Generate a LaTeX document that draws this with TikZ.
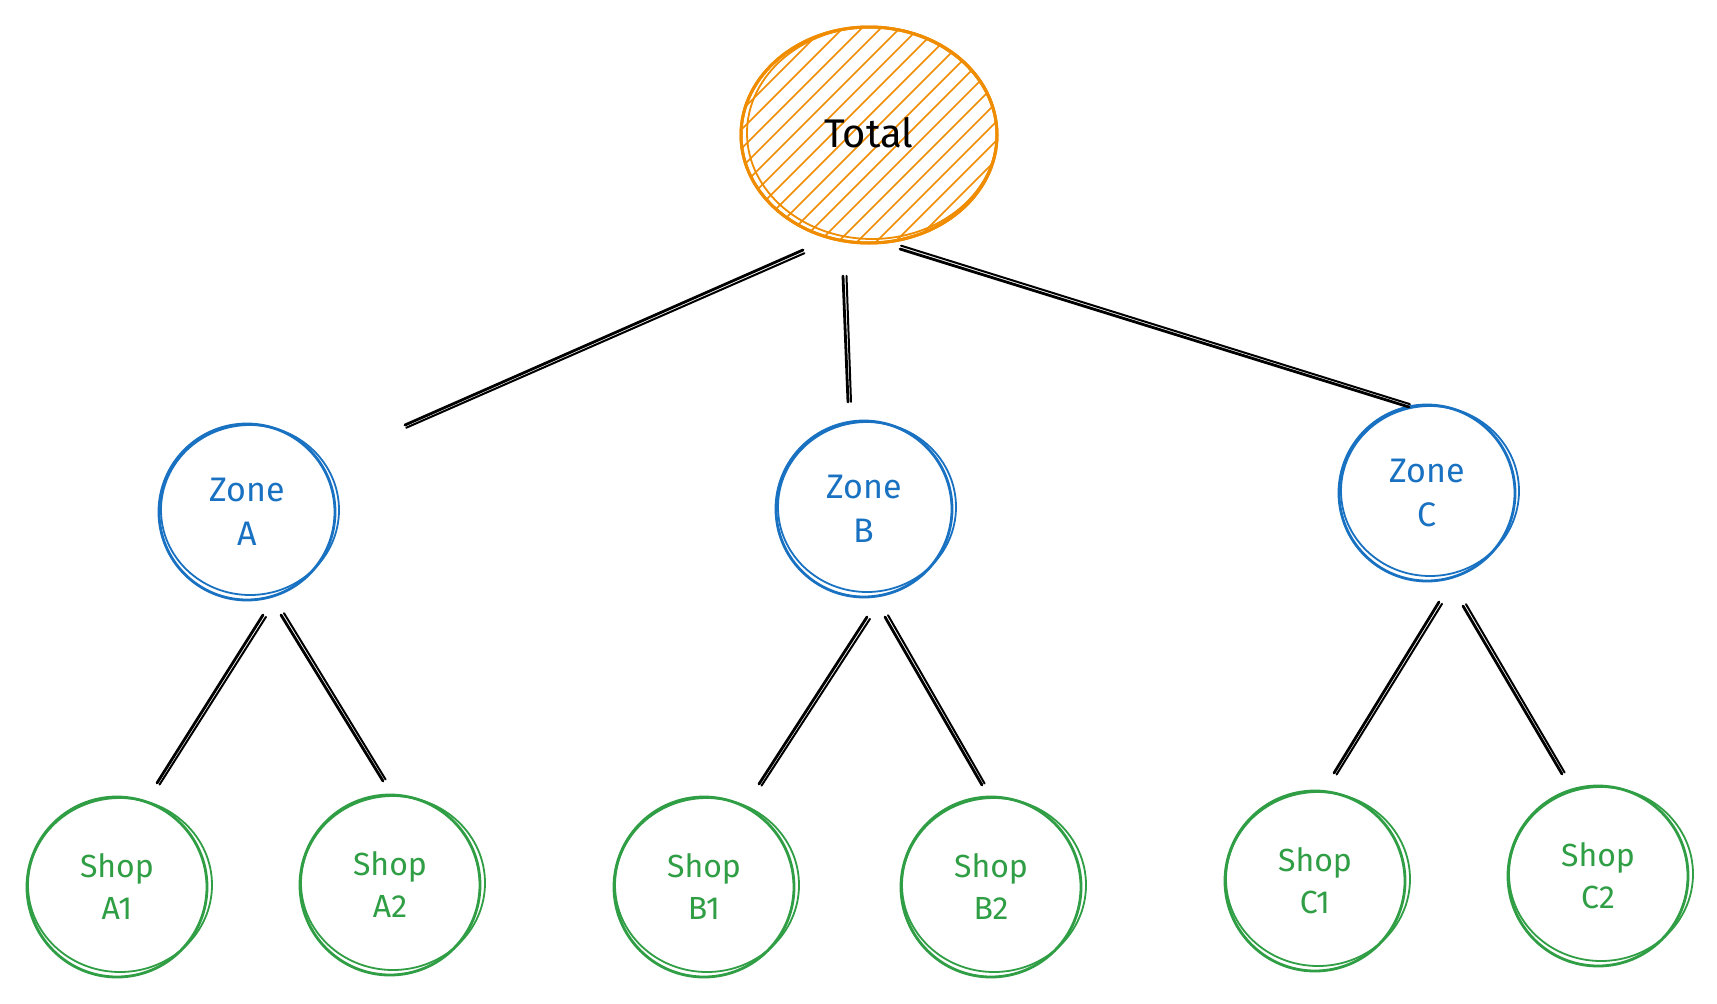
\documentclass[tikz,border=0pt]{standalone}
\usepackage{fontspec}
\setmainfont{Fira Sans}
\usetikzlibrary{shapes.geometric,calc}
\definecolor{exorange}{HTML}{F08C00}
\definecolor{exblue}{HTML}{1971C2}
\definecolor{exgreen}{HTML}{2F9E44}
\tikzset{
  conn/.style={draw=black,line width=2.8pt,line cap=round},
  conntwo/.style={draw=black,line width=2pt,line cap=round},
  zonenode/.style={circle,draw=exblue,line width=2.8pt,minimum size=176pt,inner sep=0pt,
    text=exblue,align=center,font=\fontsize{34}{44}\selectfont},
  shopnode/.style={circle,draw=exgreen,line width=2.8pt,minimum size=180pt,inner sep=0pt,
    text=exgreen,align=center,font=\fontsize{32}{42}\selectfont},
  totalnode/.style={ellipse,draw=exorange,line width=3pt,minimum width=256pt,minimum height=216pt,
    inner sep=0pt,text=black},
}
\newcommand{\sketchring}[4]{% name, color, xr, yr
  \draw[#2,line width=1.8pt] ($(#1.center)+(3,-2)$) ellipse [x radius=#3pt, y radius=#4pt];}
\newcommand{\sketchline}[2]{%
  \draw[conn] (#1) -- (#2);
  \draw[conntwo] ($(#1)!3.5pt!90:(#2)$) -- ($(#2)!3pt!-90:(#1)$);}
\begin{document}
\begin{tikzpicture}[x=1pt,y=-1pt]
\useasboundingbox (0,0) rectangle (1717,1004);
\fill[white] (0,0) rectangle (1717,1004);
% Total
\node[totalnode] (total) at (869,135) {};
\begin{scope}
  \clip (869,135) ellipse [x radius=127pt, y radius=107pt];
  \foreach \i in {-14,...,14} {
    \draw[exorange,line width=1.6pt] ($(total.center)+(\i*19-140,140)$) -- ++(280,-280);
  }
\end{scope}
\draw[exorange,line width=3pt] (total.center) ellipse [x radius=128pt, y radius=108pt];
\sketchring{total}{exorange}{125}{106}
\node[text=black,font=\fontsize{40}{48}\selectfont] (totaltext) at (869,133) {Total};
% Zones
\node[zonenode] (za) at (247,512) {Zone\\A};
\sketchring{za}{exblue}{89}{85}
\node[zonenode] (zb) at (864,509) {Zone\\B};
\sketchring{zb}{exblue}{89}{85}
\node[zonenode] (zc) at (1427,493) {Zone\\C};
\sketchring{zc}{exblue}{89}{85}
% Shops
\node[shopnode] (sa1) at (117,887) {Shop\\A1};
\sketchring{sa1}{exgreen}{92}{87}
\node[shopnode] (sa2) at (390,885) {Shop\\A2};
\sketchring{sa2}{exgreen}{92}{87}
\node[shopnode] (sb1) at (704,887) {Shop\\B1};
\sketchring{sb1}{exgreen}{92}{87}
\node[shopnode] (sb2) at (991,887) {Shop\\B2};
\sketchring{sb2}{exgreen}{92}{87}
\node[shopnode] (sc1) at (1315,881) {Shop\\C1};
\sketchring{sc1}{exgreen}{92}{87}
\node[shopnode] (sc2) at (1598,876) {Shop\\C2};
\sketchring{sc2}{exgreen}{92}{87}
% connector end points
\coordinate (tza) at (803,250);  \coordinate (zat) at (405,425);
\coordinate (tzb) at (843,276);  \coordinate (zbt) at (848,402);
\coordinate (tzc) at (900,249);  \coordinate (zct) at (1409,407);
\coordinate (zaa1) at (263,615); \coordinate (a1za) at (157,783);
\coordinate (zaa2) at (281,615); \coordinate (a2za) at (383,781);
\coordinate (zbb1) at (867,617); \coordinate (b1zb) at (759,784);
\coordinate (zbb2) at (885,617); \coordinate (b2zb) at (982,785);
\coordinate (zcc1) at (1439,602); \coordinate (c1zc) at (1334,773);
\coordinate (zcc2) at (1463,606); \coordinate (c2zc) at (1562,774);
\sketchline{tza}{zat}
\sketchline{tzb}{zbt}
\sketchline{tzc}{zct}
\sketchline{zaa1}{a1za}
\sketchline{zaa2}{a2za}
\sketchline{zbb1}{b1zb}
\sketchline{zbb2}{b2zb}
\sketchline{zcc1}{c1zc}
\sketchline{zcc2}{c2zc}
\end{tikzpicture}
\end{document}
